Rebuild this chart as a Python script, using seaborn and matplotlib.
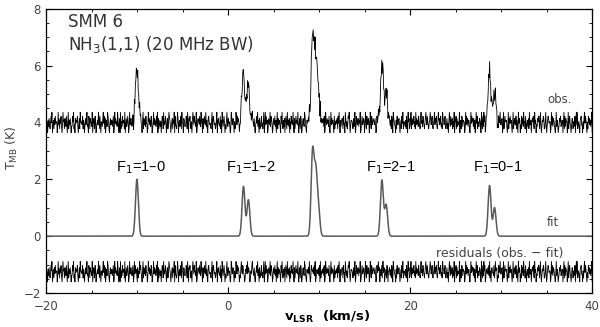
import numpy as np
import pandas as pd
import seaborn as sns
import matplotlib.pyplot as plt

# NH3(1,1) hyperfine components of the fit (km/s, K)
comp_vel = [-10.03, 1.68, 2.22, 9.27, 9.62, 9.92, 16.89, 17.36, 28.72, 29.27]
comp_amp = [2.00, 1.75, 1.28, 2.93, 2.15, 0.90, 1.97, 1.10, 1.78, 1.00]
comp_sigma = 0.16

# baseline noise of the observed spectrum, one digit per channel
noise_digits = [
    "4530627314859026173845502936174820395617428305916374022859130746582037196453",
    "8162047359230861754290376185024639718305526948170362985104736625801947352960",
    "3709152846619037248501936742580193846207153968420591736284401957362850149376",
    "5284907136250487193368205714986302571649083215970462381954076223851940768315",
    "0697385429016753842963071584392610785342169078534126905743281609725840316952",
    "7452019836740512963857402169538742016583947620153896427103584926071358241690",
    "2938460175392864017538260491736520849316270584193627051846392071584639205718",
    "6015742983106457392018654738290156437280915364728019537462810593746208153647",
    "1849306257718340962513879402665317249018537726490158347602951843760295184376",
    "5372018469570362819947023618405573261840975320618436730261849155326184095712",
    "5917364825193746285317946285314796385214697358214693758214967358241976358214",
    "7140596283371529046817253390461872655019384726610394857271603948152276309418",
    "2958016473382915067442813956702184593367029148556203917484620391573381620947",
    "6031847295518304627193360475821946032758814930265871149302687455019382764103",
    "9264013758236604918275503916842037715248069391542067833051794862041857362690",
]
# digit -> noise level (K)
noise_levels = [-0.36, -0.22, -0.14, -0.08, -0.025, 0.025, 0.08, 0.14, 0.22, 0.36]

obs_base = 4.0
resid_base = -1.25
x_ticks = [-20, 0, 20, 40]
y_ticks = [-2, 0, 2, 4, 6, 8]
labels = ["F$_1$=1\u20130", "F$_1$=1\u20132", "F$_1$=2\u20131", "F$_1$=0\u20131"]
label_vel = [-9.6, 2.5, 17.9, 29.6]


def model(v):
    out = np.zeros_like(v)
    for v0, a in zip(comp_vel, comp_amp):
        out += a * np.exp(-(v - v0) ** 2 / (2 * comp_sigma ** 2))
    return out


noise = np.array([noise_levels[int(c)] for row in noise_digits for c in row])
vel = np.linspace(-20, 40, len(noise))
fit_ch = model(vel)
obs = fit_ch + noise
resid = obs - fit_ch

v_fine = np.linspace(-20, 40, 6001)
fit_df = pd.DataFrame({"v": v_fine, "T": model(v_fine)})
obs_df = pd.DataFrame({"v": vel, "T": obs + obs_base})
res_df = pd.DataFrame({"v": vel, "T": resid + resid_base})

sns.set_theme(style="ticks")
plt.rcParams["font.family"] = ["DejaVu Sans"]

fig = plt.figure(figsize=(6.0, 3.27), dpi=100)
ax = fig.add_axes([0.077, 0.104, 0.910, 0.869])

sns.lineplot(data=obs_df, x="v", y="T", ax=ax, color="black", linewidth=0.6,
             estimator=None, sort=False)
sns.lineplot(data=fit_df, x="v", y="T", ax=ax, color="#5a5a5a", linewidth=1.1,
             estimator=None, sort=False)
sns.lineplot(data=res_df, x="v", y="T", ax=ax, color="black", linewidth=0.6,
             estimator=None, sort=False)

ax.set_xlim(-20, 40)
ax.set_ylim(-2, 8)
ax.set_xticks(x_ticks)
ax.set_yticks(y_ticks)
ax.set_xticks(np.arange(-20, 41, 5), minor=True)
ax.set_yticks(np.arange(-2, 8.01, 0.5), minor=True)
ax.tick_params(which="both", direction="in", top=True, right=True,
               colors="black", labelcolor="#444444", labelsize=8.5)
ax.tick_params(which="major", length=4, width=0.8)
ax.tick_params(which="minor", length=2.5, width=0.6)
ax.tick_params(axis="x", pad=5)
ax.tick_params(axis="y", pad=4)
for s in ax.spines.values():
    s.set_color("black")
    s.set_linewidth(0.9)

ax.set_xlabel(r"$\mathbf{v}_{\mathbf{LSR}}$  (km/s)", fontsize=9.5,
              fontweight="bold", color="black")
ax.xaxis.set_label_coords(0.515, -0.085)
ax.xaxis.label.set_verticalalignment("center")
ax.set_ylabel(r"T$_{\rm MB}$ (K)", fontsize=9, color="#444444")
ax.yaxis.set_label_coords(-0.062, 0.51)
ax.yaxis.label.set_verticalalignment("center")

ax.text(-17.6, 7.55, "SMM 6", fontsize=12, color="#333333", va="center")
ax.text(-17.6, 6.75, r"NH$_3$(1,1) (20 MHz BW)", fontsize=12, color="#333333",
        va="center")
ax.text(37.8, 4.8, "obs.", fontsize=8.5, color="#444444", ha="right", va="center")
ax.text(36.3, 0.47, "fit", fontsize=8.5, color="#444444", ha="right", va="center")
ax.text(36.8, -0.62, "residuals (obs. \u2212 fit)", fontsize=9, color="#444444",
        ha="right", va="center")
for lab, lv in zip(labels, label_vel):
    ax.text(lv, 2.4, lab, fontsize=10.5, color="black", ha="center", va="center",
            family=["Liberation Sans", "DejaVu Sans"])

fig.savefig("out.png", dpi=100)
